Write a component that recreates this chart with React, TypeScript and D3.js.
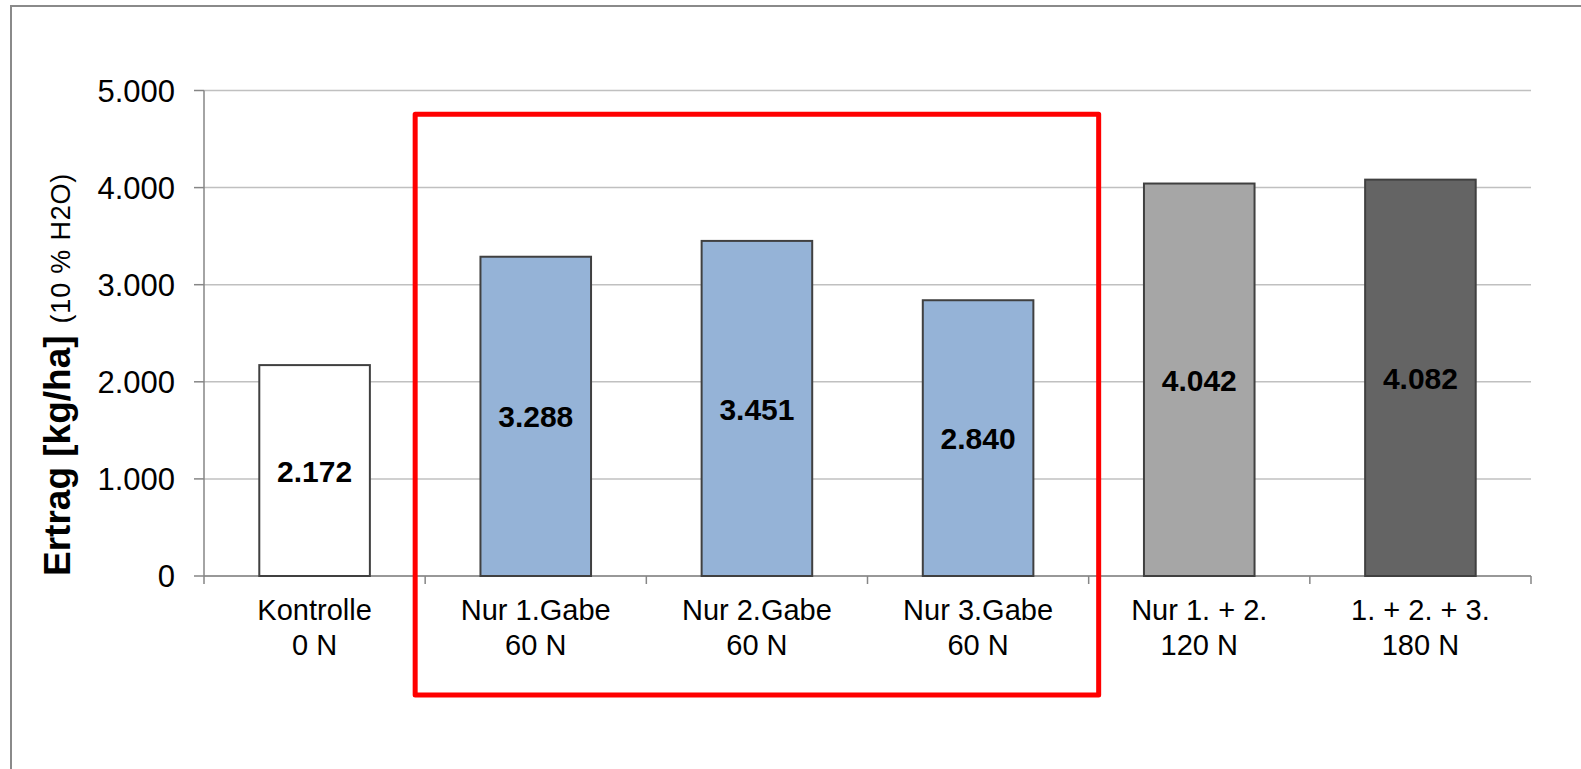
import React from "react";
import * as d3 from "d3";

const categories = [
  ["Kontrolle", "0 N"],
  ["Nur 1.Gabe", "60 N"],
  ["Nur 2.Gabe", "60 N"],
  ["Nur 3.Gabe", "60 N"],
  ["Nur 1. + 2.", "120 N"],
  ["1. + 2. + 3.", "180 N"],
];
const values = [2172, 3288, 3451, 2840, 4042, 4082];
const valueLabels = ["2.172", "3.288", "3.451", "2.840", "4.042", "4.082"];
const yTicks = [0, 1000, 2000, 3000, 4000, 5000];
const yTickLabels = ["0", "1.000", "2.000", "3.000", "4.000", "5.000"];
const fills = ["#ffffff", "#95b3d7", "#95b3d7", "#95b3d7", "#a6a6a6", "#646464"];

const W = 1581;
const H = 769;
const FONT = "Arial, 'Liberation Sans', sans-serif";

export default function App() {
  const keys = categories.map((c) => c.join(" "));
  const x = d3.scaleBand<string>().domain(keys).range([204, 1531]).paddingInner(0).paddingOuter(0);
  const y = d3.scaleLinear().domain([0, 5000]).range([576, 90.5]);
  const bw = x.bandwidth();
  const barW = bw * 0.5;
  const x0 = 204;
  const x1 = 1531;

  // annotation box around the three single-dose bars
  const boxL = (x(keys[1]) as number) - 10;
  const boxR = (x(keys[3]) as number) + bw + 10;
  const boxT = y(4755);
  const boxB = 695;

  return (
    <div style={{ position: "absolute", left: 0, top: 0 }}>
      <svg width={W} height={H} style={{ display: "block", background: "#fff" }}>
        <rect x={11} y={6} width={1700} height={900} fill="none" stroke="#8a8a8a" strokeWidth={2} />
        {/* gridlines */}
        {yTicks.map((t) => (
          <line key={"g" + t} x1={x0} x2={x1} y1={y(t)} y2={y(t)} stroke="#c0c0c0" strokeWidth={1.5} />
        ))}
        {/* y axis */}
        <line x1={x0} x2={x0} y1={y(5000)} y2={y(0) + 8} stroke="#868686" strokeWidth={1.5} />
        {yTicks.map((t, i) => (
          <g key={"yt" + t}>
            <line x1={x0 - 10} x2={x0} y1={y(t)} y2={y(t)} stroke="#868686" strokeWidth={1.5} />
            <text x={175} y={y(t)} dy="0.36em" textAnchor="end" fontFamily={FONT} fontSize={31} fill="#000">
              {yTickLabels[i]}
            </text>
          </g>
        ))}
        {/* x axis */}
        <line x1={x0} x2={x1} y1={y(0)} y2={y(0)} stroke="#868686" strokeWidth={1.5} />
        {keys.map((k, i) => (
          <line key={"xt" + i} x1={(x(k) as number) + bw} x2={(x(k) as number) + bw} y1={y(0)} y2={y(0) + 8} stroke="#868686" strokeWidth={1.5} />
        ))}
        {/* bars */}
        {keys.map((k, i) => {
          const cx = (x(k) as number) + bw / 2;
          return (
            <g key={"b" + i}>
              <rect x={cx - barW / 2} y={y(values[i])} width={barW} height={y(0) - y(values[i])} fill={fills[i]} stroke="#404040" strokeWidth={2} />
              <text x={cx} y={(y(values[i]) + y(0)) / 2} dy="0.37em" textAnchor="middle" fontFamily={FONT} fontSize={30} fontWeight="bold" fill="#000">
                {valueLabels[i]}
              </text>
            </g>
          );
        })}
        {/* category labels */}
        {keys.map((k, i) => {
          const cx = (x(k) as number) + bw / 2;
          return (
            <text key={"c" + i} textAnchor="middle" fontFamily={FONT} fontSize={29} fill="#000">
              <tspan x={cx} y={620}>{categories[i][0]}</tspan>
              <tspan x={cx} y={654.5}>{categories[i][1]}</tspan>
            </text>
          );
        })}
        {/* y title */}
        <text transform="translate(70,576) rotate(-90)" textAnchor="start" fontFamily={FONT} fill="#000">
          <tspan fontSize={37} fontWeight="bold">Ertrag [kg/ha]</tspan>
          <tspan fontSize={27} dx={12} letterSpacing={0.8}>(10 % H2O)</tspan>
        </text>
        {/* red highlight box */}
        <rect x={boxL} y={boxT} width={boxR - boxL} height={boxB - boxT} fill="none" stroke="#ff0000" strokeWidth={5} strokeLinejoin="round" />
      </svg>
    </div>
  );
}
